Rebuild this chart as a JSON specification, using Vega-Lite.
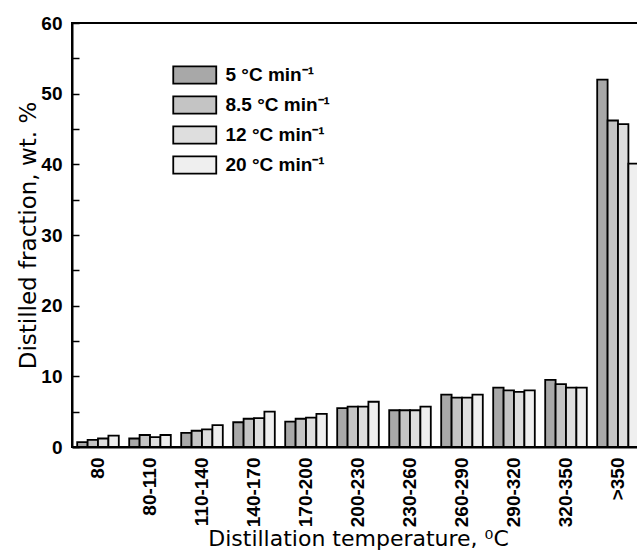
{
  "$schema": "https://vega.github.io/schema/vega-lite/v6.json",
  "width": 572,
  "height": 424,
  "autosize": {"type": "none"},
  "padding": {"left": 72, "top": 23, "right": -7, "bottom": 104},
  "background": "white",
  "config": {
    "view": {"stroke": "black", "strokeWidth": 2},
    "font": "Liberation Sans"
  },
  "data": {
    "values": [
      {"range": "80", "rate": "5 °C min⁻¹", "value": 0.7},
      {"range": "80", "rate": "8.5 °C min⁻¹", "value": 1.0},
      {"range": "80", "rate": "12 °C min⁻¹", "value": 1.2},
      {"range": "80", "rate": "20 °C min⁻¹", "value": 1.6},
      {"range": "80-110", "rate": "5 °C min⁻¹", "value": 1.2},
      {"range": "80-110", "rate": "8.5 °C min⁻¹", "value": 1.7},
      {"range": "80-110", "rate": "12 °C min⁻¹", "value": 1.4},
      {"range": "80-110", "rate": "20 °C min⁻¹", "value": 1.7},
      {"range": "110-140", "rate": "5 °C min⁻¹", "value": 2.0},
      {"range": "110-140", "rate": "8.5 °C min⁻¹", "value": 2.3},
      {"range": "110-140", "rate": "12 °C min⁻¹", "value": 2.5},
      {"range": "110-140", "rate": "20 °C min⁻¹", "value": 3.1},
      {"range": "140-170", "rate": "5 °C min⁻¹", "value": 3.5},
      {"range": "140-170", "rate": "8.5 °C min⁻¹", "value": 4.0},
      {"range": "140-170", "rate": "12 °C min⁻¹", "value": 4.1},
      {"range": "140-170", "rate": "20 °C min⁻¹", "value": 5.0},
      {"range": "170-200", "rate": "5 °C min⁻¹", "value": 3.6},
      {"range": "170-200", "rate": "8.5 °C min⁻¹", "value": 4.0},
      {"range": "170-200", "rate": "12 °C min⁻¹", "value": 4.15},
      {"range": "170-200", "rate": "20 °C min⁻¹", "value": 4.7},
      {"range": "200-230", "rate": "5 °C min⁻¹", "value": 5.5},
      {"range": "200-230", "rate": "8.5 °C min⁻¹", "value": 5.7},
      {"range": "200-230", "rate": "12 °C min⁻¹", "value": 5.7},
      {"range": "200-230", "rate": "20 °C min⁻¹", "value": 6.4},
      {"range": "230-260", "rate": "5 °C min⁻¹", "value": 5.2},
      {"range": "230-260", "rate": "8.5 °C min⁻¹", "value": 5.2},
      {"range": "230-260", "rate": "12 °C min⁻¹", "value": 5.2},
      {"range": "230-260", "rate": "20 °C min⁻¹", "value": 5.7},
      {"range": "260-290", "rate": "5 °C min⁻¹", "value": 7.4},
      {"range": "260-290", "rate": "8.5 °C min⁻¹", "value": 7.0},
      {"range": "260-290", "rate": "12 °C min⁻¹", "value": 7.0},
      {"range": "260-290", "rate": "20 °C min⁻¹", "value": 7.4},
      {"range": "290-320", "rate": "5 °C min⁻¹", "value": 8.4},
      {"range": "290-320", "rate": "8.5 °C min⁻¹", "value": 8.0},
      {"range": "290-320", "rate": "12 °C min⁻¹", "value": 7.8},
      {"range": "290-320", "rate": "20 °C min⁻¹", "value": 8.0},
      {"range": "320-350", "rate": "5 °C min⁻¹", "value": 9.5},
      {"range": "320-350", "rate": "8.5 °C min⁻¹", "value": 8.9},
      {"range": "320-350", "rate": "12 °C min⁻¹", "value": 8.4},
      {"range": "320-350", "rate": "20 °C min⁻¹", "value": 8.4},
      {"range": ">350", "rate": "5 °C min⁻¹", "value": 52.0},
      {"range": ">350", "rate": "8.5 °C min⁻¹", "value": 46.2},
      {"range": ">350", "rate": "12 °C min⁻¹", "value": 45.7},
      {"range": ">350", "rate": "20 °C min⁻¹", "value": 40.1}
    ]
  },
  "mark": {"type": "bar", "stroke": "black", "strokeWidth": 1.8},
  "encoding": {
    "x": {
      "field": "range",
      "type": "nominal",
      "sort": null,
      "scale": {"paddingInner": 0.2, "paddingOuter": 0.1},
      "axis": {
        "title": "Distillation temperature, ⁰C",
        "titleFont": "DejaVu Sans",
        "titleFontSize": 22,
        "titleFontWeight": "normal",
        "titleColor": "black",
        "titlePadding": 2,
        "labelAngle": 270,
        "labelFont": "Liberation Sans",
        "labelFontSize": 19,
        "labelFontWeight": "bold",
        "labelColor": "black",
        "labelPadding": 10,
        "ticks": false,
        "tickSize": 0,
        "domainColor": "black",
        "domainWidth": 2
      }
    },
    "xOffset": {
      "field": "rate",
      "type": "nominal",
      "sort": null,
      "scale": {"paddingInner": 0, "paddingOuter": 0}
    },
    "y": {
      "field": "value",
      "type": "quantitative",
      "scale": {"domain": [0, 60], "nice": false},
      "axis": {
        "title": "Distilled fraction, wt. %",
        "titleFont": "DejaVu Sans",
        "titleFontSize": 23,
        "titleFontWeight": "normal",
        "titleColor": "black",
        "titlePadding": 0,
        "values": [0, 5, 10, 15, 20, 25, 30, 35, 40, 45, 50, 55, 60],
        "labelExpr": "datum.value % 10 === 0 ? datum.label : ''",
        "labelFont": "Liberation Sans",
        "labelFontSize": 19,
        "labelFontWeight": "bold",
        "labelColor": "black",
        "labelPadding": 17,
        "ticks": true,
        "tickSize": -7,
        "tickColor": "black",
        "tickWidth": 1.5,
        "domainColor": "black",
        "domainWidth": 2,
        "grid": false,
        "zindex": 1
      }
    },
    "fill": {
      "field": "rate",
      "type": "nominal",
      "sort": null,
      "scale": {
        "domain": ["5 °C min⁻¹", "8.5 °C min⁻¹", "12 °C min⁻¹", "20 °C min⁻¹"],
        "range": ["#a8a8a8", "#c4c4c4", "#dedede", "#efefef"]
      },
      "legend": {
        "title": null,
        "orient": "none",
        "legendX": 110.75,
        "legendY": 40,
        "padding": 0,
        "symbolType": "M-2,-0.8H2V0.8H-2Z",
        "symbolSize": 462.25,
        "symbolStrokeColor": "black",
        "symbolStrokeWidth": 1.8,
        "symbolOpacity": 1,
        "labelFont": "Liberation Sans",
        "labelFontSize": 19,
        "labelFontWeight": "bold",
        "labelColor": "black",
        "labelOffset": 18.75,
        "rowPadding": 4
      }
    }
  }
}
